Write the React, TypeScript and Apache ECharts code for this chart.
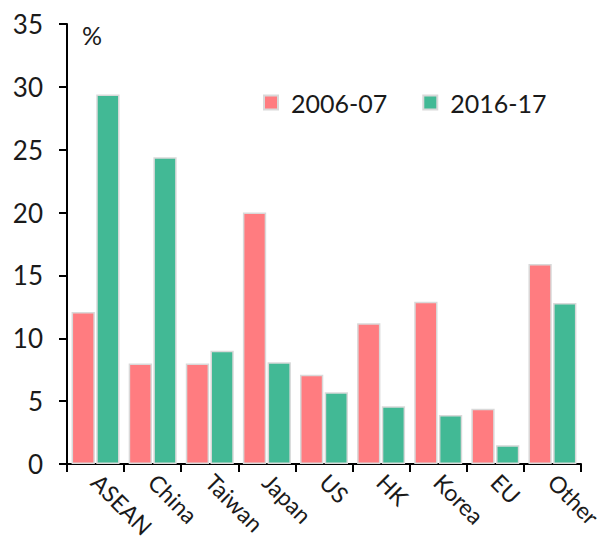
import React, { useEffect, useRef } from "react";
import * as echarts from "echarts";

const categories = ["ASEAN", "China", "Taiwan", "Japan", "US", "HK", "Korea", "EU", "Other"];
const series2006 = [12.1, 8.0, 8.0, 20.0, 7.1, 11.2, 12.9, 4.4, 15.9];
const series2016 = [29.4, 24.4, 9.0, 8.1, 5.7, 4.6, 3.9, 1.5, 12.8];
const seriesNames = ["2006-07", "2016-17"];
const yTicks = { min: 0, max: 35, interval: 5 };

const FONT = "Lato, 'DejaVu Sans', sans-serif";

export default function App() {
  const ref = useRef<HTMLDivElement>(null);
  useEffect(() => {
    if (!ref.current) return;
    const chart = echarts.init(ref.current, undefined, { renderer: "svg" });
    const border = { borderColor: "#d9d9d9", borderWidth: 1.5 };
    chart.setOption({
      animation: false,
      textStyle: { fontFamily: FONT, color: "#1a1a1a" },
      grid: { left: 67, right: 28, top: 24, bottom: 93, containLabel: false },
      legend: {
        data: seriesNames,
        left: 258,
        top: 85,
        icon: "rect",
        itemWidth: 14,
        itemHeight: 14,
        itemGap: 35,
        textStyle: { fontSize: 25, fontFamily: FONT, color: "#1a1a1a", padding: [0, 0, 0, 8] },
      },
      graphic: [
        {
          type: "text",
          left: 82,
          top: 22,
          style: { text: "%", fontSize: 25, fontFamily: FONT, fill: "#1a1a1a" },
        },
      ],
      xAxis: {
        type: "category",
        data: categories,
        axisLine: { lineStyle: { color: "#000", width: 2 } },
        axisTick: { show: true, length: 8, lineStyle: { color: "#000", width: 2 } },
        axisLabel: { rotate: -45, fontSize: 23, margin: 14, color: "#1a1a1a", fontFamily: FONT },
      },
      yAxis: {
        type: "value",
        min: yTicks.min,
        max: yTicks.max,
        interval: yTicks.interval,
        axisLine: { show: true, lineStyle: { color: "#000", width: 2 } },
        axisTick: { show: true, length: 8, lineStyle: { color: "#000", width: 2 } },
        splitLine: { show: false },
        axisLabel: { fontSize: 26, margin: 24, color: "#1a1a1a", fontFamily: FONT },
      },
      series: [
        {
          name: seriesNames[0],
          type: "bar",
          data: series2006,
          barGap: "6%",
          barCategoryGap: "16%",
          itemStyle: { color: "#FF7C80", ...border },
        },
        {
          name: seriesNames[1],
          type: "bar",
          data: series2016,
          itemStyle: { color: "#42B995", ...border },
        },
      ],
    });
    return () => chart.dispose();
  }, []);
  return <div ref={ref} style={{ width: 609, height: 557, position: "absolute", left: 0, top: 0 }} />;
}
